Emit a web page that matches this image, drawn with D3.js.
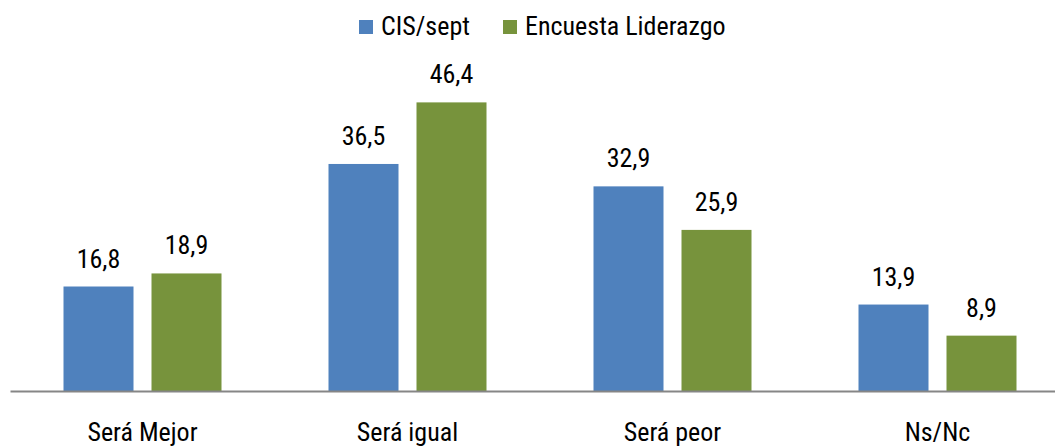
<!DOCTYPE html>
<html><head><meta charset="utf-8">
<script src="https://cdn.jsdelivr.net/npm/d3@7"></script>
<style>
body{margin:0;background:#fff;}
svg text{font-family:"Liberation Sans Narrow","Arial Narrow","Roboto Condensed","Liberation Sans",sans-serif;fill:#000;}
</style></head>
<body><svg id="c" width="1055" height="446"></svg>
<script>
const categories = ["Será Mejor","Será igual","Será peor","Ns/Nc"];
const seriesNames = ["CIS/sept","Encuesta Liderazgo"];
const cisValues = [16.8,36.5,32.9,13.9];
const liderazgoValues = [18.9,46.4,25.9,8.9];
const colors = ["#4F81BD","#77933C"];

const svg = d3.select("#c");
const x = d3.scaleBand().domain(categories).range([10,1070]).paddingInner(0).paddingOuter(0);
const y = d3.scaleLinear().domain([0,50]).range([391,80]);
const sub = d3.scaleBand().domain(seriesNames).range([53.5,211.5]).paddingInner(18/88).paddingOuter(0);

const data = categories.map((c,i)=>({cat:c, vals:[cisValues[i],liderazgoValues[i]]}));

const g = svg.append("g");
const groups = g.selectAll("g.cat").data(data).join("g").attr("transform",d=>`translate(${x(d.cat)},0)`);
groups.selectAll("rect").data(d=>d.vals.map((v,k)=>({v,k}))).join("rect")
  .attr("x",d=>sub(seriesNames[d.k])).attr("width",sub.bandwidth())
  .attr("y",d=>y(d.v)).attr("height",d=>y(0)-y(d.v)).attr("fill",d=>colors[d.k]);
groups.selectAll("text.val").data(d=>d.vals.map((v,k)=>({v,k}))).join("text").attr("class","val")
  .attr("x",d=>sub(seriesNames[d.k])+sub.bandwidth()/2).attr("y",d=>y(d.v)-19)
  .attr("text-anchor","middle").attr("font-size",26)
  .text(d=>d3.format(".1f")(d.v).replace(".",","));

// axis
const axis = d3.axisBottom(x).tickSize(0).tickPadding(32);
const ag = svg.append("g").attr("transform",`translate(0,${y(0)})`).call(axis);
ag.select(".domain").attr("stroke","#868686").attr("stroke-width",2);
ag.selectAll(".tick text").attr("font-size",26).attr("fill","#000").style("font-family",'"Liberation Sans Narrow","Arial Narrow","Roboto Condensed","Liberation Sans",sans-serif');

// legend
const legendX = [359,503];
const lg = svg.append("g");
seriesNames.forEach((s,i)=>{
  lg.append("rect").attr("x",legendX[i]).attr("y",20).attr("width",14).attr("height",14).attr("fill",colors[i]);
  lg.append("text").attr("x",legendX[i]+22).attr("y",35).attr("font-size",26).text(s);
});
</script></body></html>
